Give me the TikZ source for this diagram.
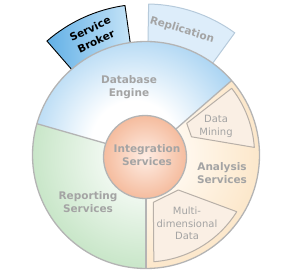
\documentclass[tikz,border=0pt]{standalone}
\usepackage{fontspec}
\setmainfont{DejaVu Sans}
\usetikzlibrary{calc}
\definecolor{dbblue}{HTML}{A6D2F2}
\definecolor{greenout}{HTML}{C6E5C6}
\definecolor{greenin}{HTML}{F2F9F2}
\definecolor{anaout}{HTML}{FCE6C8}
\definecolor{anain}{HTML}{FFF8EE}
\definecolor{boxfill}{HTML}{FAEFE4}
\definecolor{boxline}{HTML}{B8B0A8}
\definecolor{peachin}{HTML}{FEEDE4}
\definecolor{peachout}{HTML}{F5BC9E}
\definecolor{linegray}{HTML}{B4B4B4}
\definecolor{txtgray}{HTML}{A4A4A4}
\definecolor{sbdark}{HTML}{62B0E6}
\definecolor{sblight}{HTML}{C8E5F8}
\definecolor{repfill}{HTML}{DDEDFA}
\definecolor{repline}{HTML}{B6CADB}
\pgfdeclareradialshading{dbshade}{\pgfpoint{0bp}{0bp}}{color(0bp)=(white);color(9bp)=(white);color(25bp)=(dbblue);color(50bp)=(dbblue)}
\pgfdeclareradialshading{grshade}{\pgfpoint{0bp}{0bp}}{color(0bp)=(greenin);color(8bp)=(greenin);color(25bp)=(greenout);color(50bp)=(greenout)}
\pgfdeclareradialshading{anshade}{\pgfpoint{0bp}{0bp}}{color(0bp)=(anain);color(8bp)=(anain);color(25bp)=(anaout);color(50bp)=(anaout)}
\begin{document}
\begin{tikzpicture}[x=1pt,y=1pt,
  lbl/.style={font=\fontsize{10.5}{13}\selectfont\bfseries, text=txtgray, align=center, inner sep=0pt},
  sublbl/.style={font=\fontsize{10}{12.7}\selectfont, text=txtgray, align=center, inner sep=0pt},
  edgeline/.style={draw=linegray, line width=1.3pt},
  boxstyle/.style={fill=boxfill, draw=boxline, line width=1pt, line join=round}]
\useasboundingbox (0,0) rectangle (291,272);
\coordinate (C) at (146,117);
\begin{scope}[shift={(C)}]
  % tabs behind the wheel
  \shadedraw[left color=sbdark, right color=sblight, draw=black, line width=0.9pt, line join=round]
    (98:100) -- (98:151) arc[start angle=98,end angle=131,radius=151] -- (131:100) -- cycle;
  \filldraw[fill=repfill, draw=repline, line width=1pt, line join=round]
    (54:100) -- (54:151) arc[start angle=54,end angle=89,radius=151] -- (89:100) -- cycle;
  % sectors
  \begin{scope}
    \clip (0,0) -- (41:113.5) arc[start angle=41,end angle=164,radius=113.5] -- cycle;
    \shade[shading=dbshade] (-12,12) circle (118);
  \end{scope}
  \begin{scope}
    \clip (0,0) -- (164:113.5) arc[start angle=164,end angle=270,radius=113.5] -- cycle;
    \shade[shading=grshade] (0,0) circle (118);
  \end{scope}
  \begin{scope}
    \clip (0,0) -- (-90:113.5) arc[start angle=-90,end angle=41,radius=113.5] -- cycle;
    \shade[shading=anshade] (0,0) circle (118);
  \end{scope}
  \draw[edgeline] (0,0) circle (113.5);
  \draw[edgeline] (0,0) -- (41:113.5);
  \draw[edgeline] (0,0) -- (164:113.5);
  \draw[edgeline] (0,0) -- (270:113.5);
  % inner boxes
  \filldraw[boxstyle] (37.9:51.6) -- (37.9:108.6) arc[start angle=37.9,end angle=4,radius=108.6] -- (21.8:49) -- cycle;
  \filldraw[boxstyle] (-81.2:47.9) -- (-47.3:47.6) -- (-32:107) arc[start angle=-32,end angle=-85.8,radius=107] -- cycle;
  % central circle
  \shadedraw[inner color=peachin, outer color=peachout, draw=linegray, line width=1.3pt] (-1,-2) circle (41.5);
\end{scope}
\node[lbl, font=\fontsize{10.5}{14}\selectfont\bfseries, text=black, rotate=25] (sb) at (93,237) {Service\\Broker};
\node[lbl, rotate=-17] (rep) at (182,242) {Replication};
\node[lbl] (db) at (129,185) {Database\\Engine};
\node[lbl] (is) at (147,117) {Integration\\Services};
\node[lbl] (as) at (222,98.5) {Analysis\\Services};
\node[lbl] (rs) at (88,70) {Reporting\\Services};
\node[sublbl] (dm) at (216,145.5) {Data\\Mining};
\node[sublbl] (md) at (187,48.5) {Multi-\\dimensional\\Data};
\end{tikzpicture}
\end{document}
